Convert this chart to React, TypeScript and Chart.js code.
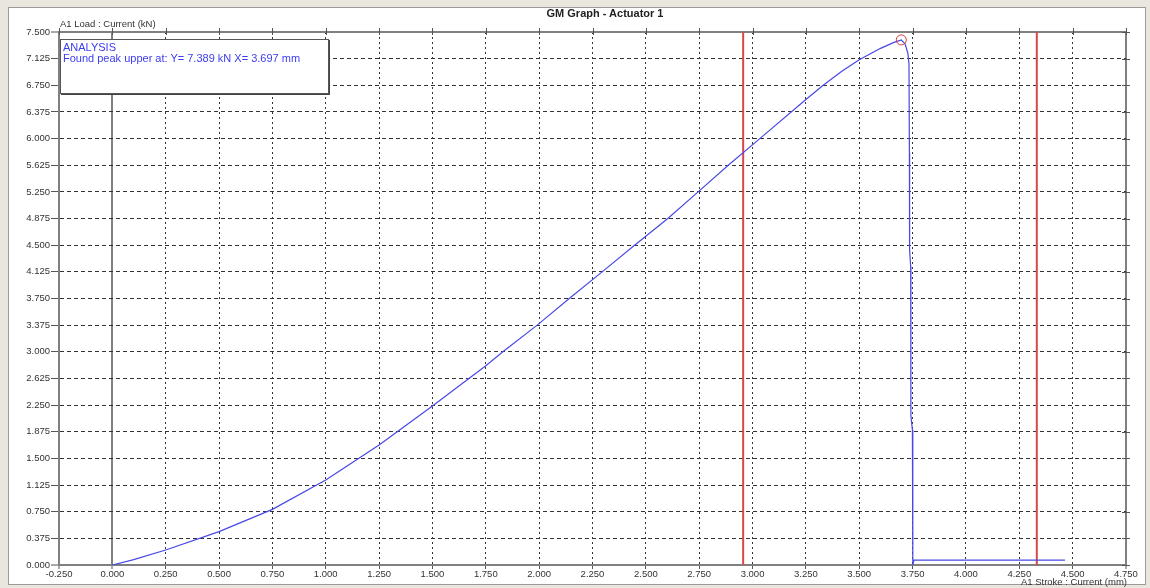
import React, { useEffect, useRef } from "react";
import { Chart, registerables } from "chart.js";

Chart.register(...registerables);

// Stroke (mm) and load (kN)
const strokeMm = [
  0, 0.1, 0.25, 0.5, 0.75, 1.0, 1.25, 1.5, 1.75, 1.83, 1.991,
  2.141, 2.295, 2.447, 2.603, 2.745, 2.886, 3.034, 3.25, 3.331, 3.42, 3.5, 3.6, 3.66,
  3.697, 3.715, 3.728, 3.733, 3.735, 3.736, 3.741, 3.742, 3.749, 3.751, 3.756, 4.464,
];
const loadKn = [
  0, 0.075, 0.211, 0.469, 0.783, 1.195, 1.688, 2.236, 2.803, 3.0, 3.375,
  3.75, 4.125, 4.5, 4.875, 5.25, 5.625, 6.0, 6.55, 6.75, 6.95, 7.11, 7.27, 7.35,
  7.389, 7.33, 7.2, 7.05, 5.8, 4.43, 4.2, 2.1, 1.9, 0.0, 0.07, 0.07,
];

// Cursor lines (mm)
const cursorStroke = [2.956, 4.332];

// Found peak
const peakStroke = [3.697];
const peakLoad = [7.389];

// Axis ranges / tick steps
const xMin = -0.25;
const xMax = 4.75;
const xStep = 0.25;
const yMin = 0;
const yMax = 7.5;
const yStep = 0.375;

const titleText = "GM Graph - Actuator 1";
const yAxisLabel = "A1 Load : Current (kN)";
const xAxisLabel = "A1 Stroke : Current (mm)";
const analysisTitle = "ANALYSIS";
const analysisText = "Found peak upper at: Y= 7.389 kN X= 3.697 mm";

const AXIS_GRAY = "#808080";
const GRID_DARK = "#333333";
const CURVE_BLUE = "#4848e6";
const CURSOR_RED = "#d94848";

const near = (a: number, b: number) => Math.abs(a - b) < 1e-9;

const edgeTicks = {
  id: "edgeTicks",
  afterDatasetsDraw(chart: any) {
    const { ctx, chartArea: a, scales } = chart;
    const x = scales.x;
    const y = scales.y;
    ctx.save();
    ctx.strokeStyle = "#555555";
    ctx.lineWidth = 1;
    ctx.beginPath();
    x.ticks.forEach((t: any) => {
      const px = Math.round(x.getPixelForValue(t.value)) + 0.5;
      ctx.moveTo(px, a.top - 4);
      ctx.lineTo(px, a.top + 3);
    });
    y.ticks.forEach((t: any) => {
      const py = Math.round(y.getPixelForValue(t.value)) + 0.5;
      ctx.moveTo(a.right - 4, py);
      ctx.lineTo(a.right + 4, py);
    });
    ctx.stroke();
    ctx.restore();
  },
};

export default function App() {
  const canvasRef = useRef<HTMLCanvasElement | null>(null);

  useEffect(() => {
    if (!canvasRef.current) return;
    const curve = strokeMm.map((s, i) => ({ x: s, y: loadKn[i] }));
    const cursors = cursorStroke.map((c) => [
      { x: c, y: yMin },
      { x: c, y: yMax },
    ]);
    const peak = peakStroke.map((s, i) => ({ x: s, y: peakLoad[i] }));

    const isXEdge = (v: number) => near(v, 0) || near(v, xMin) || near(v, xMax);
    const isYEdge = (v: number) => near(v, yMin) || near(v, yMax);

    const chart = new Chart(canvasRef.current, {
      type: "scatter",
      data: {
        datasets: [
          {
            data: peak,
            showLine: false,
            pointRadius: 5,
            pointStyle: "circle",
            borderColor: "#d83a3a",
            backgroundColor: "rgba(0,0,0,0)",
            pointBorderWidth: 1,
          } as any,
          {
            data: curve,
            showLine: true,
            borderColor: CURVE_BLUE,
            borderWidth: 1.2,
            pointRadius: 0,
            tension: 0,
          },
          ...cursors.map((pts) => ({
            data: pts,
            showLine: true,
            borderColor: CURSOR_RED,
            borderWidth: 2,
            pointRadius: 0,
          })),
        ],
      },
      options: {
        animation: false,
        responsive: false,
        devicePixelRatio: 1,
        events: [],
        layout: { padding: { left: 9, top: 32, right: 24, bottom: 0 } },
        plugins: {
          legend: { display: false },
          tooltip: { enabled: false },
          title: { display: false },
        },
        scales: {
          x: {
            type: "linear",
            min: xMin,
            max: xMax,
            afterFit: (s: any) => {
              s.height = 23;
            },
            ticks: {
              stepSize: xStep,
              autoSkip: false,
              maxRotation: 0,
              padding: 0,
              color: "#333333",
              font: { family: "Arial, 'Liberation Sans', sans-serif", size: 9.5 },
              callback: (v: any) => Number(v).toFixed(3),
            },
            grid: {
              color: (c: any) => (c.tick && isXEdge(c.tick.value) ? AXIS_GRAY : GRID_DARK),
              lineWidth: (c: any) => (c.tick && isXEdge(c.tick.value) ? 2 : 1),
              tickColor: "#555555",
              tickLength: 4,
              tickWidth: 1,
            },
            border: {
              display: true,
              color: AXIS_GRAY,
              width: 2,
              dash: (c: any) => (c.tick && isXEdge(c.tick.value) ? [] : [2, 3]),
            } as any,
          },
          y: {
            type: "linear",
            min: yMin,
            max: yMax,
            afterFit: (s: any) => {
              s.width = 50;
            },
            ticks: {
              stepSize: yStep,
              autoSkip: false,
              padding: 1,
              color: "#333333",
              font: { family: "Arial, 'Liberation Sans', sans-serif", size: 9.5 },
              callback: (v: any) => Number(v).toFixed(3),
            },
            grid: {
              color: (c: any) => (c.tick && isYEdge(c.tick.value) ? AXIS_GRAY : GRID_DARK),
              lineWidth: (c: any) => (c.tick && isYEdge(c.tick.value) ? 2 : 1),
              tickColor: "#555555",
              tickLength: 8,
              tickWidth: 1,
            },
            border: {
              display: true,
              color: AXIS_GRAY,
              width: 2,
              dash: (c: any) => (c.tick && isYEdge(c.tick.value) ? [] : [4, 3]),
            } as any,
          },
        },
      },
      plugins: [edgeTicks],
    } as any);
    return () => chart.destroy();
  }, []);

  const font = "Arial, 'Liberation Sans', sans-serif";

  return (
    <div
      style={{
        position: "absolute",
        left: 0,
        top: 0,
        width: 1150,
        height: 588,
        background: "#e9e7dd",
        overflow: "hidden",
        fontFamily: font,
      }}
    >
      <div
        style={{
          position: "absolute",
          left: 8,
          top: 7,
          width: 1138,
          height: 578,
          background: "#ffffff",
          border: "1px solid #9a9a9a",
          boxSizing: "border-box",
        }}
      />
      <canvas
        ref={canvasRef}
        width={1150}
        height={588}
        style={{ position: "absolute", left: 0, top: 0, width: 1150, height: 588, display: "block" }}
      />
      <div
        style={{
          position: "absolute",
          left: 505,
          top: 7,
          width: 200,
          textAlign: "center",
          fontWeight: "bold",
          fontSize: 11,
          lineHeight: "13px",
          color: "#222",
          whiteSpace: "nowrap",
        }}
      >
        {titleText}
      </div>
      <div
        style={{
          position: "absolute",
          left: 60,
          top: 18,
          fontSize: 9.5,
          lineHeight: "11px",
          color: "#333",
          whiteSpace: "nowrap",
        }}
      >
        {yAxisLabel}
      </div>
      <div
        style={{
          position: "absolute",
          right: 1150 - 1127,
          top: 576,
          fontSize: 9.5,
          lineHeight: "11px",
          color: "#333",
          whiteSpace: "nowrap",
        }}
      >
        {xAxisLabel}
      </div>
      <div
        style={{
          position: "absolute",
          left: 60,
          top: 39,
          width: 269,
          height: 55,
          boxSizing: "border-box",
          background: "#ffffff",
          border: "1px solid #555",
          boxShadow: "1px 1px 0 #444",
          padding: "2px 0 0 2px",
          color: "#3c3cf0",
          fontSize: 11,
          lineHeight: "11px",
          whiteSpace: "nowrap",
        }}
      >
        <div>{analysisTitle}</div>
        <div>{analysisText}</div>
      </div>
    </div>
  );
}
